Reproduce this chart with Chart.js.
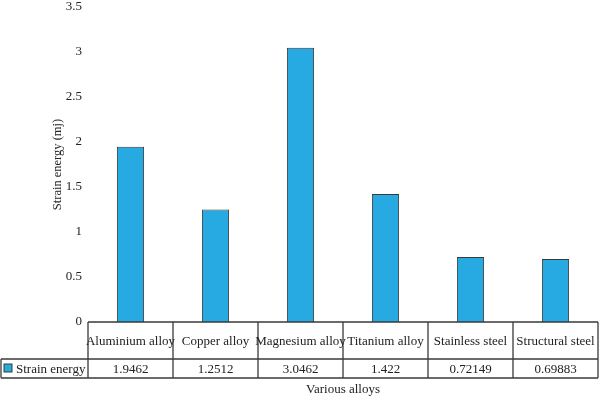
<!DOCTYPE html>
<html>
<head>
<meta charset="utf-8">
<script src="https://cdn.jsdelivr.net/npm/chart.js"></script>
<style>
  html, body { margin: 0; padding: 0; background: #fff; }
  #wrap { width: 600px; height: 398px; position: relative; }
</style>
</head>
<body>
<div id="wrap"><canvas id="alloyChart"></canvas></div>
<script>
// data
const alloys = ['Aluminium alloy', 'Copper alloy', 'Magnesium alloy', 'Titanium alloy', 'Stainless steel', 'Structural steel'];
const strainEnergy = [1.9462, 1.2512, 3.0462, 1.422, 0.72149, 0.69883];
const tableLabels = ['1.9462', '1.2512', '3.0462', '1.422', '0.72149', '0.69883'];
const seriesName = 'Strain energy';

const serif = "'Liberation Serif', 'DejaVu Serif', serif";
const barColor = '#27aae2';
const lineColor = '#3a3a3a';

// draws the data table under the plot, using the x scale for column edges
const dataTable = {
  id: 'dataTable',
  afterDraw(chart) {
    const ctx = chart.ctx;
    const x = chart.scales.x;
    const area = chart.chartArea;
    const half = (x.getPixelForValue(1) - x.getPixelForValue(0)) / 2;
    const top = area.bottom;
    const mid = top + 37;
    const bot = mid + 19;
    const left = x.getPixelForValue(0) - half;
    const right = x.getPixelForValue(alloys.length - 1) + half;

    ctx.save();
    ctx.strokeStyle = lineColor;
    ctx.lineWidth = 1.3;
    ctx.beginPath();
    ctx.moveTo(left, top); ctx.lineTo(right, top);
    ctx.moveTo(1, mid); ctx.lineTo(right, mid);
    ctx.moveTo(1, bot); ctx.lineTo(right, bot);
    ctx.moveTo(1, mid); ctx.lineTo(1, bot);
    for (let i = 0; i <= alloys.length; i++) {
      const cx = x.getPixelForValue(i) - half;
      ctx.moveTo(cx, top); ctx.lineTo(cx, bot);
    }
    ctx.stroke();

    ctx.fillStyle = '#222';
    ctx.font = '13px ' + serif;
    ctx.textAlign = 'center';
    ctx.textBaseline = 'middle';
    alloys.forEach((name, i) => {
      const cx = x.getPixelForValue(i);
      ctx.fillText(name, cx, (top + mid) / 2 + 1);
      ctx.fillText(tableLabels[i], cx, (mid + bot) / 2 + 1);
    });

    // legend key
    ctx.fillStyle = barColor;
    ctx.fillRect(4, mid + 5, 8, 8);
    ctx.lineWidth = 1;
    ctx.strokeRect(4, mid + 5, 8, 8);
    ctx.fillStyle = '#222';
    ctx.textAlign = 'left';
    ctx.fillText(seriesName, 16, (mid + bot) / 2 + 1);

    // axis title, centred under the plot
    ctx.textAlign = 'center';
    ctx.fillText('Various alloys', (left + right) / 2, bot + 12);
    ctx.restore();
  }
};

const ctx = document.getElementById('alloyChart').getContext('2d');
new Chart(ctx, {
  type: 'bar',
  data: {
    labels: alloys,
    datasets: [{
      label: seriesName,
      data: strainEnergy,
      backgroundColor: barColor,
      borderColor: lineColor,
      borderWidth: 1,
      barPercentage: 0.32,
      categoryPercentage: 1
    }]
  },
  options: {
    responsive: true,
    maintainAspectRatio: false,
    animation: false,
    layout: { padding: { top: 7, right: 2, bottom: 76, left: 50 } },
    plugins: {
      legend: { display: false },
      tooltip: { enabled: false }
    },
    scales: {
      x: { display: false },
      y: {
        min: 0,
        max: 3.5,
        ticks: {
          stepSize: 0.5,
          padding: 6,
          color: '#222',
          font: { family: serif, size: 13 },
          callback: v => String(v)
        },
        grid: { display: false, drawTicks: false },
        border: { display: false },
        title: {
          display: true,
          text: 'Strain energy (mj)',
          color: '#222',
          font: { family: serif, size: 12.5 },
          padding: { top: 0, bottom: 0 }
        },
        afterFit(scale) {
          scale.width = 38;
          scale.paddingTop = 0;
          scale.paddingBottom = 0;
        }
      }
    }
  },
  plugins: [dataTable]
});
</script>
</body>
</html>
